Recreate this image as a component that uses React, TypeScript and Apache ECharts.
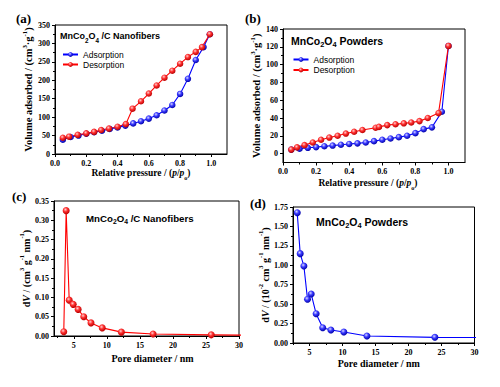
import React, { useEffect, useRef } from 'react';
import * as echarts from 'echarts';

// (a) MnCo2O4/C nanofibers isotherm
const aAdsX = [0.05, 0.1, 0.15, 0.2, 0.25, 0.3, 0.35, 0.4, 0.45, 0.5, 0.55, 0.6, 0.65, 0.7, 0.75, 0.8, 0.85, 0.9, 0.95, 0.99];
const aAdsY = [39, 46, 50, 55, 59, 63, 68, 72, 77, 83, 89, 96, 105, 118, 133, 163, 204, 255, 290, 325];
const aDesX = [0.05, 0.09, 0.145, 0.2, 0.25, 0.295, 0.345, 0.4, 0.453, 0.496, 0.55, 0.6, 0.65, 0.7, 0.75, 0.8, 0.85, 0.9, 0.94, 0.99];
const aDesY = [44, 47, 52, 56, 60, 65, 69, 74, 81, 123, 143, 164, 186, 207, 226, 245, 263, 277, 290, 325];

// (b) MnCo2O4 powders isotherm
const bAdsX = [0.05, 0.1, 0.15, 0.2, 0.25, 0.3, 0.35, 0.4, 0.45, 0.5, 0.55, 0.6, 0.65, 0.7, 0.75, 0.8, 0.85, 0.9, 0.96, 1.0];
const bAdsY = [4.5, 5.5, 6.5, 7.3, 8.3, 9, 10, 10.8, 11.5, 12.5, 14, 15.5, 17, 18.5, 20, 23, 27.5, 29.5, 47, 121];
const bDesX = [0.05, 0.085, 0.13, 0.18, 0.23, 0.28, 0.33, 0.38, 0.43, 0.48, 0.56, 0.58, 0.63, 0.68, 0.73, 0.775, 0.825, 0.875, 0.94, 1.0];
const bDesY = [4.5, 7, 9.5, 12.5, 15.5, 18, 20, 22.5, 24.5, 26.5, 29, 30, 32, 33, 34, 35, 36.5, 40, 45.5, 121];

// (c) MnCo2O4/C nanofibers pore size distribution
const cX = [3.48, 3.84, 4.3, 4.9, 5.65, 6.5, 7.6, 9.3, 12.2, 17.0, 25.8, 32];
const cY = [0.011, 0.325, 0.093, 0.082, 0.069, 0.05, 0.034, 0.021, 0.01, 0.005, 0.003, 0.002];

// (d) MnCo2O4 powders pore size distribution
const dX = [3.14, 3.59, 4.15, 4.7, 5.26, 6.0, 7.0, 8.24, 10.2, 13.7, 24.0, 32];
const dY = [1.677, 1.15, 0.99, 0.562, 0.63, 0.377, 0.197, 0.167, 0.142, 0.09, 0.073, 0.07];

// tick values
const aXTicks = [0, 0.2, 0.4, 0.6, 0.8, 1.0];
const aYTicks = [0, 50, 100, 150, 200, 250, 300, 350];
const bXTicks = [0, 0.2, 0.4, 0.6, 0.8, 1.0];
const bYTicks = [0, 20, 40, 60, 80, 100, 120, 140];
const bYMinor = [10, 30, 50, 70, 90, 110, 130];
const cXTicks = [5, 10, 15, 20, 25, 30];
const cXMinor = [2.5, 7.5, 12.5, 17.5, 22.5, 27.5];
const cYTicks = [0, 0.05, 0.1, 0.15, 0.2, 0.25, 0.3, 0.35];
const dXTicks = [5, 10, 15, 20, 25, 30];
const dXMinor = [2.5, 7.5, 12.5, 17.5, 22.5, 27.5];
const dYTicks = [0, 0.25, 0.5, 0.75, 1.0, 1.25, 1.5, 1.75];

const legendNames = ['Adsorption', 'Desorption'];

const serif = '"Liberation Serif", "Times New Roman", serif';
const sans = '"Liberation Sans", Arial, sans-serif';

const zip = (xs: number[], ys: number[]) => xs.map((x, i) => [x, ys[i]]);

const grad = (c0: string, c1: string, c2: string) => ({
  type: 'radial', x: 0.4, y: 0.35, r: 0.65,
  colorStops: [{ offset: 0, color: c0 }, { offset: 0.45, color: c1 }, { offset: 1, color: c2 }],
});
const blueGrad = grad('#d8d8ff', '#3a3aff', '#0000a8');
const redGrad = grad('#ffd0d0', '#ff3030', '#b80000');

const nameRich = (size: number) => ({
  b: { fontFamily: serif, fontWeight: 'bold', fontSize: size, lineHeight: 16, color: '#000' },
  it: { fontFamily: serif, fontWeight: 'bold', fontStyle: 'italic', fontSize: size, lineHeight: 16, color: '#000' },
  sup: { fontFamily: serif, fontWeight: 'bold', fontSize: size * 0.65, lineHeight: 9, verticalAlign: 'top', color: '#000' },
  sub: { fontFamily: serif, fontWeight: 'bold', fontSize: size * 0.65, lineHeight: 8, verticalAlign: 'bottom', color: '#000' },
});

const titleRich = (size: number) => ({
  n: { fontFamily: sans, fontWeight: 'bold', fontSize: size, lineHeight: 14, fill: '#000' },
  s: { fontFamily: sans, fontWeight: 'bold', fontSize: size * 0.7, lineHeight: 8, verticalAlign: 'bottom', fill: '#000' },
});

const lineCol = { color: '#000', width: 1 };
const labelStyle = { fontFamily: serif, fontWeight: 'bold', fontSize: 8, color: '#000' };

function mainAxis(o: any) {
  return {
    type: 'value',
    gridIndex: o.grid,
    min: o.min,
    max: o.max,
    interval: o.interval,
    position: o.position,
    name: o.name,
    nameLocation: 'middle',
    nameGap: o.nameGap,
    nameRotate: o.rotate,
    nameTextStyle: { rich: nameRich(o.nameSize), padding: o.namePad || 0 },
    axisLine: { show: true, onZero: false, lineStyle: lineCol },
    axisTick: { show: true, inside: false, length: 3, lineStyle: lineCol, customValues: o.ticks },
    minorTick: { show: !!o.minor, splitNumber: 2, length: 2, lineStyle: lineCol },
    axisLabel: { ...labelStyle, margin: o.margin, customValues: o.ticks, formatter: (v: number) => v.toFixed(o.dec) },
    splitLine: { show: false },
  };
}

function minorAxis(grid: number, min: number, max: number, vals: number[], position: string) {
  return {
    type: 'value', gridIndex: grid, min, max, position,
    axisLine: { show: false },
    axisLabel: { show: false },
    splitLine: { show: false },
    axisTick: { show: true, inside: false, length: 2, lineStyle: lineCol, customValues: vals },
  };
}

function lineSeries(name: string, xi: number, yi: number, xs: number[], ys: number[], color: string, g: any, size: number) {
  return {
    type: 'line', name, xAxisIndex: xi, yAxisIndex: yi, data: zip(xs, ys),
    symbol: 'circle', symbolSize: size, clip: true,
    lineStyle: { color, width: 1.1 },
    itemStyle: { color: g, borderWidth: 0 },
  };
}

const gridBox = { show: true, borderColor: '#000', borderWidth: 1, backgroundColor: 'transparent', containLabel: false };

export default function App() {
  const ref = useRef<HTMLDivElement>(null);
  useEffect(() => {
    if (!ref.current) return;
    const chart = echarts.init(ref.current, undefined, { renderer: 'svg' });
    const xTitle = '{b|Relative pressure / (}{it|p}{b|/}{it|p}{sub|o}{b|)}';
    const option: any = {
      animation: false,
      backgroundColor: '#fff',
      grid: [
        { ...gridBox, left: 55, top: 25, width: 172, height: 129 },
        { ...gridBox, left: 283, top: 29, width: 182, height: 133.5 },
        { ...gridBox, left: 54, top: 201, width: 185, height: 135 },
        { ...gridBox, left: 293, top: 207, width: 181.5, height: 136 },
      ],
      xAxis: [
        mainAxis({ grid: 0, min: 0, max: 1.1, interval: 0.2, ticks: aXTicks, dec: 1, name: xTitle, nameGap: 11, nameSize: 9.5, margin: 5, minor: true, position: 'bottom' }),
        mainAxis({ grid: 1, min: 0, max: 1.1, interval: 0.2, ticks: bXTicks, dec: 1, name: xTitle, nameGap: 12, nameSize: 9.5, margin: 5, minor: true, position: 'bottom', namePad: [0, 12, 0, 0] }),
        mainAxis({ grid: 2, min: 2, max: 30, interval: 1, ticks: cXTicks, dec: 0, name: '{b|Pore diameter / nm}', nameGap: 14, nameSize: 10, margin: 5, position: 'bottom', namePad: [0, 0, 0, 12] }),
        mainAxis({ grid: 3, min: 2.5, max: 30, interval: 0.5, ticks: dXTicks, dec: 0, name: '{b|Pore diameter / nm}', nameGap: 12, nameSize: 10, margin: 5, position: 'bottom', namePad: [0, 10, 0, 0] }),
        minorAxis(2, 2, 30, cXMinor, 'bottom'),
        minorAxis(3, 2.5, 30, dXMinor, 'bottom'),
      ],
      yAxis: [
        mainAxis({ grid: 0, min: 0, max: 350, interval: 50, ticks: aYTicks, dec: 0, name: '{b|Volume adsorbed / (cm}{sup|3}{b|·g}{sup|-1}{b|)}', nameGap: 16, nameSize: 10.5, rotate: 90, margin: 5, minor: true, position: 'left' }),
        mainAxis({ grid: 1, min: -10, max: 140, interval: 10, ticks: bYTicks, dec: 0, name: '{b|Volume adsorbed / (cm}{sup|3}{b|·g}{sup|-1}{b|)}', nameGap: 17, nameSize: 10.5, rotate: 90, margin: 5, position: 'left' }),
        mainAxis({ grid: 2, min: 0, max: 0.35, interval: 0.05, ticks: cYTicks, dec: 2, name: '{b|d}{it|V}{b| / (cm}{sup|3}{b| g}{sup|-1}{b| nm}{sup|-1}{b|)}', nameGap: 17, nameSize: 10, rotate: 90, margin: 5, minor: true, position: 'left' }),
        mainAxis({ grid: 3, min: 0, max: 1.75, interval: 0.25, ticks: dYTicks, dec: 2, name: '{b|d}{it|V}{b| / (10}{sup|-2}{b| cm}{sup|3}{b| g}{sup|-1}{b| nm}{sup|-1}{b|)}', nameGap: 19, nameSize: 10, rotate: 90, margin: 5, minor: true, position: 'left' }),
        minorAxis(1, -10, 140, bYMinor, 'left'),
      ],
      legend: [
        {
          data: legendNames, left: 62, top: 50, orient: 'vertical', padding: 0,
          itemWidth: 15, itemHeight: 6, itemGap: 1,
          textStyle: { fontFamily: sans, fontSize: 8.5, color: '#000', lineHeight: 8 },
        },
        {
          data: legendNames, left: 292.5, top: 55, orient: 'vertical', padding: 0,
          itemWidth: 15, itemHeight: 6, itemGap: 1.5,
          textStyle: { fontFamily: sans, fontSize: 8.5, color: '#000', lineHeight: 8 },
        },
      ],
      series: [
        lineSeries('Adsorption', 0, 0, aAdsX, aAdsY, '#0000ff', blueGrad, 6.5),
        lineSeries('Desorption', 0, 0, aDesX, aDesY, '#ff0000', redGrad, 6.5),
        lineSeries('Adsorption', 1, 1, bAdsX, bAdsY, '#0000ff', blueGrad, 6.5),
        lineSeries('Desorption', 1, 1, bDesX, bDesY, '#ff0000', redGrad, 6.5),
        lineSeries('PSD-c', 2, 2, cX, cY, '#ff0000', redGrad, 7),
        lineSeries('PSD-d', 3, 3, dX, dY, '#0000ff', blueGrad, 7),
      ],
      graphic: [
        { type: 'text', x: 16, y: 18, style: { text: '(a)', font: `bold 13px ${serif}`, fill: '#000', verticalAlign: 'middle' } },
        { type: 'text', x: 245, y: 18, style: { text: '(b)', font: `bold 13px ${serif}`, fill: '#000', verticalAlign: 'middle' } },
        { type: 'text', x: 12, y: 196, style: { text: '(c)', font: `bold 13px ${serif}`, fill: '#000', verticalAlign: 'middle' } },
        { type: 'text', x: 250, y: 203, style: { text: '(d)', font: `bold 13px ${serif}`, fill: '#000', verticalAlign: 'middle' } },
        { type: 'text', x: 60, y: 36, style: { text: '{n|MnCo}{s|2}{n|O}{s|4}{n| /C Nanofibers}', rich: titleRich(9), verticalAlign: 'middle' } },
        { type: 'text', x: 291, y: 41, style: { text: '{n|MnCo}{s|2}{n|O}{s|4}{n| Powders}', rich: titleRich(10.5), verticalAlign: 'middle' } },
        { type: 'text', x: 86, y: 218, style: { text: '{n|MnCo}{s|2}{n|O}{s|4}{n| /C Nanofibers}', rich: titleRich(9.7), verticalAlign: 'middle' } },
        { type: 'text', x: 316, y: 222, style: { text: '{n|MnCo}{s|2}{n|O}{s|4}{n| Powders}', rich: titleRich(10.5), verticalAlign: 'middle' } },
      ],
    };
    chart.setOption(option);
    return () => chart.dispose();
  }, []);
  return <div ref={ref} style={{ position: 'fixed', left: 0, top: 0, width: 500, height: 387 }} />;
}
